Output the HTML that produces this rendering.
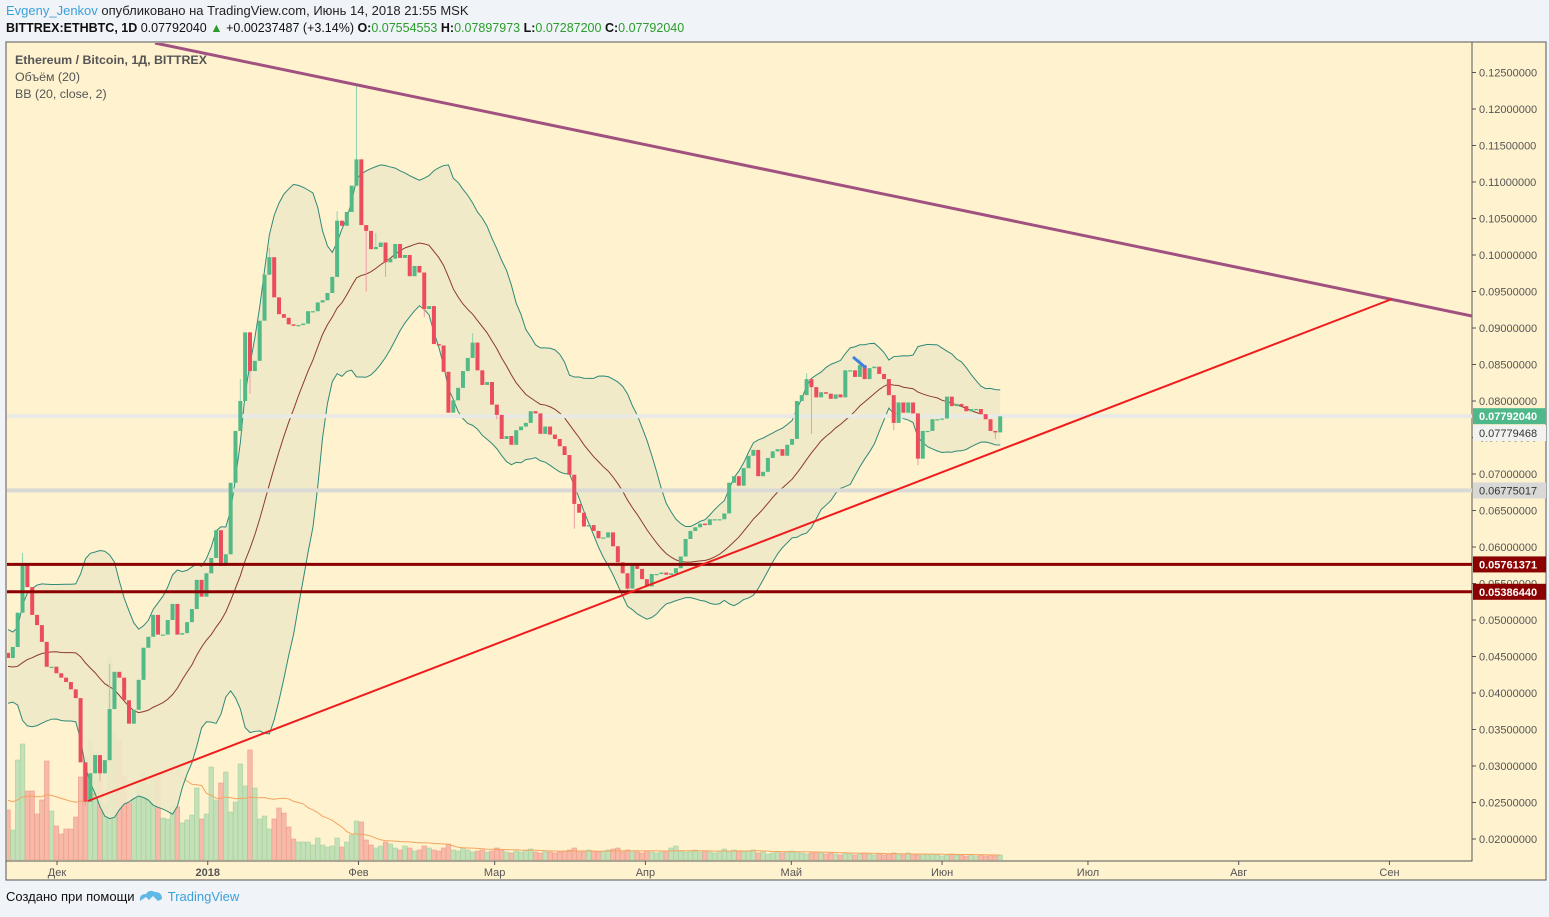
<!DOCTYPE html>
<html><head><meta charset="utf-8">
<style>
html,body{margin:0;padding:0;background:#f0f3f7;width:1549px;height:917px;overflow:hidden;font-family:"Liberation Sans",sans-serif;}
#hdr1{position:absolute;left:6px;top:3px;font-size:13px;color:#222;}
#hdr2{position:absolute;left:6px;top:21px;font-size:12.5px;color:#111;}
.g{color:#2a9d2a}
#foot{position:absolute;left:6px;top:885px;font-size:13px;color:#111;}
svg{position:absolute;left:0;top:0}
</style></head>
<body>
<div id="hdr1"><span style="color:#3ba0d8">Evgeny_Jenkov</span> опубликовано на TradingView.com, Июнь 14, 2018 21:55 MSK</div>
<div id="hdr2"><b>BITTREX:ETHBTC, 1D</b> 0.07792040 <span style="color:#2a9d2a">▲</span> +0.00237487 (+3.14%) <b>O:</b><span class="g">0.07554553</span> <b>H:</b><span class="g">0.07897973</span> <b>L:</b><span class="g">0.07287200</span> <b>C:</b><span class="g">0.07792040</span></div>
<svg id="chart" width="1549" height="917"></svg>
<div id="foot">Создано при помощи <svg width="26" height="16" style="position:relative;left:0;top:3px;display:inline-block"><path d="M2 13 Q1 6 8 6 Q11 1 17 4 Q24 4 24 11 L20 13 L15 8 L11 12 L8 9 Z" fill="#5fb8e6"/></svg> <span style="color:#3ba0d8">TradingView</span></div>
<script>
const preCloses=[0.0480,0.0490,0.0475,0.0460,0.0455,0.0430,0.0420,0.0410,0.0415,0.0425,0.0440,0.0420,0.0405,0.0400,0.0410,0.0420,0.0430,0.0445,0.0450];
const closes=[0.0448,0.0463,0.0510,0.0575,0.0545,0.0507,0.0493,0.0470,0.0436,0.0436,
0.0427,0.0421,0.0415,0.0405,0.0393,0.0305,0.0251,0.0290,0.0315,0.0290,
0.0308,0.0378,0.0429,0.0421,0.0390,0.0358,0.0377,0.0418,0.0462,0.0477,
0.0507,0.0480,0.0480,0.0500,0.0522,0.0480,0.0482,0.0497,0.0515,0.0555,
0.0532,0.0564,0.0585,0.0623,0.0574,0.0590,0.0688,0.0759,0.0800,0.0894,
0.0841,0.0855,0.0910,0.0973,0.0997,0.0942,0.0919,0.0914,0.0905,0.0903,
0.0904,0.0906,0.0923,0.0923,0.0935,0.0938,0.0948,0.0970,0.1047,0.1040,
0.1059,0.1095,0.1131,0.1041,0.1033,0.1008,0.1011,0.1017,0.0990,0.0995,
0.1015,0.0996,0.1000,0.0971,0.0985,0.0976,0.0926,0.0930,0.0878,0.0876,
0.0840,0.0784,0.0801,0.0818,0.0841,0.0859,0.0880,0.0842,0.0822,0.0826,
0.0795,0.0781,0.0748,0.0752,0.0740,0.0760,0.0765,0.0770,0.0786,0.0783,
0.0755,0.0765,0.0754,0.0748,0.0738,0.0726,0.0699,0.0659,0.0647,0.0628,
0.0630,0.0622,0.0612,0.0613,0.0620,0.0601,0.0579,0.0564,0.0543,0.0575,
0.0570,0.0556,0.0546,0.0563,0.0563,0.0565,0.0562,0.0564,0.0571,0.0587,
0.0611,0.0622,0.0627,0.0632,0.0630,0.0638,0.0638,0.0638,0.0646,0.0688,
0.0697,0.0684,0.0708,0.0725,0.0733,0.0697,0.0703,0.0722,0.0731,0.0734,
0.0725,0.0740,0.0748,0.0800,0.0808,0.0830,0.0819,0.0805,0.0812,0.0810,
0.0803,0.0809,0.0805,0.0842,0.0842,0.0833,0.0849,0.0830,0.0845,0.0847,
0.0837,0.0830,0.0808,0.0770,0.0798,0.0784,0.0798,0.0783,0.0721,0.0759,
0.0759,0.0775,0.0775,0.0776,0.0806,0.0793,0.0796,0.0793,0.0786,0.0789,
0.0789,0.0782,0.0775,0.0759,0.0757,0.0779];
const firstOpen=0.0455;
const wickHigh={3:0.0592,21:0.0440,48:0.0830,54:0.1010,68:0.1060,72:0.1232,76:0.1030,96:0.0893,165:0.0838,176:0.0858};
const wickLow={16:0.0245,19:0.0280,50:0.0810,74:0.0950,78:0.0970,86:0.0915,101:0.0775,117:0.0625,128:0.0540,166:0.0755,183:0.0760,188:0.0712,204:0.0748};
const preVols=[60,62,58,55,65,60,58,62,64,60,57,61,59,63,60,58,62,60,61];
const vols=[50,30,100,116,69,69,46,60,99,49,
34,26,31,31,43,83,103,118,108,80,
57,203,129,120,84,57,62,79,88,75,
82,86,42,41,54,53,37,40,45,72,
41,46,93,60,77,88,48,58,96,74,
110,72,41,44,31,41,52,47,33,21,
18,18,18,15,22,15,13,14,22,13,
18,25,39,38,20,15,12,14,18,16,
12,10,14,12,9,10,14,12,10,9,
12,16,10,9,12,10,8,9,10,8,
9,12,10,8,7,9,8,10,11,8,
7,9,8,7,8,9,10,12,9,8,
10,9,8,9,10,11,12,8,10,9,
8,7,9,8,7,8,9,12,14,9,
8,9,10,8,9,8,7,9,11,8,
10,9,8,9,10,7,8,6,7,8,
7,8,9,8,7,6,7,8,7,6,
7,6,5,7,6,5,6,7,6,5,
6,5,6,7,6,5,7,6,5,6,
5,6,5,4,5,6,5,5,4,5,
4,5,4,5,4,5];
const priceTicks=[0.125,0.12,0.115,0.11,0.105,0.10,0.095,0.09,0.085,0.08,0.075,0.07,0.065,0.06,0.055,0.05,0.045,0.04,0.035,0.03,0.025,0.02];
const monthLabels=["Дек","2018","Фев","Мар","Апр","Май","Июн","Июл","Авг","Сен"];
const monthDayIdx=[10,41,72,100,131,161,192,222,253,284];
const levelLines=[0.05761371,0.05386440];
const greyLines=[0.07792040,0.06775017];

const NS="http://www.w3.org/2000/svg";
const svg=document.getElementById('chart');
const X0=8,DX=4.84;
function xs(i){return X0+i*DX;}
function xl(i){return 57+(i-10)*4.863;}
function ys(p){return 401-(p-0.08)*7300;}
function vy(v){return 860-v;}
function mk(tag,attrs,parent){const e=document.createElementNS(NS,tag);for(const k in attrs)e.setAttribute(k,attrs[k]);(parent||svg).appendChild(e);return e;}

let e;
e=mk('rect',{x:6,y:42,width:1540,height:838,fill:'#fff2cf',stroke:'#555','stroke-width':1});


e=mk('rect',{x:6,y:42,width:1466,height:819,fill:'none',stroke:'#555','stroke-width':1});



const clip=mk('clipPath',{id:'cp'});mk('rect',{x:7,y:43,width:1465,height:817},clip);
const plot=mk('g',{'clip-path':'url(#cp)'});



const opens=closes.map((c,i)=>i===0?firstOpen:closes[i-1]);
for(let i=0;i<closes.length;i++){
  const up=closes[i]>=opens[i];
  e=mk('rect',{x:xs(i)-2.3,y:vy(vols[i]),width:4.6,height:vols[i],fill:up?'#c3e0b9':'#f7b9a8',stroke:up?'#a9d29c':'#ee9f8c','stroke-width':0.6},plot);
  
  
}
const allV=preVols.concat(vols);
let vp=[];
for(let i=0;i<vols.length;i++){let s=0;for(let k=i;k<i+20;k++)s+=allV[k];vp.push(xs(i)+','+vy(s/20));}
e=mk('polyline',{points:vp.join(' '),fill:'none',stroke:'#f4a460','stroke-width':1},plot);



const allC=preCloses.concat(closes);
let up=[],lo=[],mid=[];
for(let i=0;i<closes.length;i++){let s=0;for(let k=i;k<i+20;k++)s+=allC[k];const m=s/20;let v=0;for(let k=i;k<i+20;k++)v+=(allC[k]-m)**2;const sd=Math.sqrt(v/20);
  up.push([xs(i),ys(m+2*sd)]);lo.push([xs(i),ys(m-2*sd)]);mid.push([xs(i),ys(m)]);}
e=mk('polygon',{points:up.concat(lo.slice().reverse()).map(p=>p.join(',')).join(' '),fill:'#f0e9c8','fill-opacity':0.9},plot);


e=mk('polyline',{points:up.map(p=>p.join(',')).join(' '),fill:'none',stroke:'#2f8a78','stroke-width':1},plot);


e=mk('polyline',{points:lo.map(p=>p.join(',')).join(' '),fill:'none',stroke:'#2f8a78','stroke-width':1},plot);


e=mk('polyline',{points:mid.map(p=>p.join(',')).join(' '),fill:'none',stroke:'#8a3b2c','stroke-width':1},plot);



greyLines.forEach((p,j)=>{
  e=mk('line',{x1:7,x2:1472,y1:ys(p),y2:ys(p),stroke:j===0?'#e9e9e6':'#d9d9d6','stroke-width':4},plot);
  
  
});

for(let i=0;i<closes.length;i++){
  const o=opens[i],c=closes[i],isUp=c>=o;
  const col=isUp?'#53b987':'#eb4d5c';
  const hi=wickHigh[i]!==undefined?wickHigh[i]:Math.max(o,c);
  const lw=wickLow[i]!==undefined?wickLow[i]:Math.min(o,c);
  e=mk('line',{x1:xs(i),x2:xs(i),y1:ys(hi),y2:ys(lw),stroke:isUp?'#8fd1b0':'#f19aa3','stroke-width':1},plot);
  
  
  const top=ys(Math.max(o,c)),h=Math.max(1.2,Math.abs(ys(o)-ys(c)));
  e=mk('rect',{x:xs(i)-2,y:top,width:4,height:h,fill:col},plot);
  
  
}

levelLines.forEach(p=>{
  e=mk('line',{x1:7,x2:1472,y1:ys(p),y2:ys(p),stroke:'#8b0000','stroke-width':3},plot);
  
  
});
e=mk('line',{x1:155,y1:43,x2:1472,y2:316,stroke:'#a0517f','stroke-width':3},plot);


e=mk('line',{x1:88,y1:801,x2:1392,y2:299,stroke:'#f01c1c','stroke-width':2},plot);


e=mk('line',{x1:853,y1:357,x2:866,y2:368,stroke:'#3d80e0','stroke-width':3},plot);



[['Ethereum / Bitcoin, 1Д, BITTREX',64],['Объём (20)',81],['BB (20, close, 2)',98]].forEach((t,j)=>{
  e=mk('text',{x:15,y:t[1],'font-size':12.4,fill:'#555','font-weight':j===0?'bold':'normal','font-family':'Liberation Sans, sans-serif'});
  e.textContent=t[0];
  
  
});

priceTicks.forEach(p=>{
  const y=ys(p);
  mk('line',{x1:1472,x2:1476,y1:y,y2:y,stroke:'#555'});
  e=mk('text',{x:1479,y:y+4,'font-size':11,fill:'#555','font-family':'Liberation Sans, sans-serif'});
  e.textContent=p.toFixed(8);
  
  
});
function badge(yc,txt,bg,fg,bold,name){
  e=mk('rect',{x:1473,y:yc-8,width:73,height:16,fill:bg});
  
  
  e=mk('text',{x:1479,y:yc+4,'font-size':11,fill:fg,'font-weight':bold?'bold':'normal','font-family':'Liberation Sans, sans-serif'});
  e.textContent=txt;
  
  
}
badge(ys(0.07792040),'0.07792040','#4fb88a','#fff',true,'last-price-badge');
badge(433,'0.07779468','#f2f2f0','#333',false,'price-badge');
badge(ys(0.06775017),'0.06775017','#d8d8d6','#333',false,'grey-level-badge');
badge(ys(0.05761371),'0.05761371','#8b0000','#fff',true,'resistance-badge');
badge(ys(0.05386440),'0.05386440','#8b0000','#fff',true,'support-badge');

monthLabels.forEach((m,j)=>{
  const x=xl(monthDayIdx[j]);
  mk('line',{x1:x,x2:x,y1:861,y2:865,stroke:'#555'});
  e=mk('text',{x:x,y:876,'font-size':11,fill:'#555','text-anchor':'middle','font-weight':m==='2018'?'bold':'normal','font-family':'Liberation Sans, sans-serif'});
  e.textContent=m;
  
  
});
</script>
</body></html>
